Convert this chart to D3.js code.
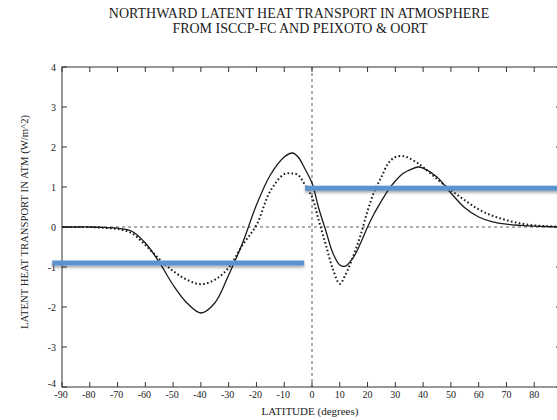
<!DOCTYPE html>
<html>
<head>
<meta charset="utf-8">
<script src="https://cdn.jsdelivr.net/npm/d3@7"></script>
<style>
  body { margin: 0; background: #fff; }
  text { font-family: "Liberation Serif", "Times New Roman", serif; fill: #222; }
</style>
</head>
<body>
<div id="chart"></div>
<script>
// latitude samples (degrees)
var latitudes = [-90,-85,-80,-75,-70,-65,-60,-55,-50,-45,-40,-35,-30,-25,-20,-15,-10,-7,-5,-2.5,
                 0,2.5,5,7.5,10,12,15,17.5,20,22.5,25,27.5,30,33,35,38,40,45,50,55,60,65,70,75,80,85,90];

// ISCCP-FC (solid)
var isccpValues = [0,0,0,-0.01,-0.03,-0.1,-0.4,-0.88,-1.45,-1.9,-2.15,-1.9,-1.2,-0.4,0.55,1.3,1.75,1.85,1.75,1.45,
                   1.1,0.45,-0.1,-0.65,-0.95,-0.98,-0.75,-0.4,0.0,0.35,0.65,0.93,1.15,1.35,1.42,1.5,1.47,1.25,0.85,0.48,0.25,0.13,0.07,0.04,0.02,0.01,0];

// Peixoto & Oort (dotted)
var peixotoValues = [0,0,0,-0.02,-0.05,-0.15,-0.45,-0.8,-1.1,-1.32,-1.43,-1.32,-1.02,-0.45,0.05,0.9,1.32,1.34,1.3,1.05,
                     0.75,0.15,-0.45,-1.05,-1.42,-1.2,-0.7,-0.2,0.4,0.9,1.25,1.6,1.75,1.77,1.72,1.6,1.5,1.2,0.92,0.67,0.44,0.28,0.17,0.09,0.04,0.02,0];

// hemispheric means (blue bars)
var hemiMeans = [
    {from: -93.5, to: -2.8, value: -0.9},
    {from: -2.5, to: 92, value: 0.97}
];

var xTicks = [-90,-80,-70,-60,-50,-40,-30,-20,-10,0,10,20,30,40,50,60,70,80];
var yTicks = [-4,-3,-2,-1,0,1,2,3,4];

var W = 557, H = 420;
var plotL = 62, plotR = 562, plotT = 67, plotB = 387;

var svg = d3.select("#chart").append("svg")
    .attr("width", W)
    .attr("height", H);

var defs = svg.append("defs");
var filt = defs.append("filter").attr("id", "shadow")
    .attr("x", "-5%").attr("y", "-100%").attr("width", "110%").attr("height", "400%");
filt.append("feDropShadow")
    .attr("dx", 0).attr("dy", 2).attr("stdDeviation", 1.5)
    .attr("flood-color", "#000").attr("flood-opacity", 0.35);

var x = d3.scaleLinear().domain([-90, 90]).range([plotL, plotR]);
var y = d3.scaleLinear().domain([-4, 4]).range([plotB, plotT]);

// title
svg.append("text")
    .attr("x", 299).attr("y", 18)
    .attr("text-anchor", "middle")
    .style("font-size", "14px")
    .text("NORTHWARD LATENT HEAT TRANSPORT IN ATMOSPHERE");
svg.append("text")
    .attr("x", 300).attr("y", 33)
    .attr("text-anchor", "middle")
    .style("font-size", "14px")
    .text("FROM ISCCP-FC AND PEIXOTO & OORT");

// frame
svg.append("rect")
    .attr("x", plotL).attr("y", plotT)
    .attr("width", plotR - plotL).attr("height", plotB - plotT)
    .attr("fill", "none")
    .attr("stroke", "#333")
    .attr("stroke-width", 1);

// x ticks (top and bottom, inward)
xTicks.forEach(function(t) {
    svg.append("line")
        .attr("x1", x(t)).attr("x2", x(t))
        .attr("y1", plotB).attr("y2", plotB - 5)
        .attr("stroke", "#333");
    svg.append("line")
        .attr("x1", x(t)).attr("x2", x(t))
        .attr("y1", plotT).attr("y2", plotT + 5)
        .attr("stroke", "#333");
    svg.append("text")
        .attr("x", x(t) + (t < 0 ? -1 : 0))
        .attr("y", plotB + 11)
        .attr("text-anchor", "middle")
        .style("font-size", "10px")
        .text(t);
});

// y ticks (left and right, inward)
yTicks.forEach(function(t) {
    svg.append("line")
        .attr("x1", plotL).attr("x2", plotL + 5)
        .attr("y1", y(t)).attr("y2", y(t))
        .attr("stroke", "#333");
    svg.append("line")
        .attr("x1", plotR).attr("x2", plotR - 6)
        .attr("y1", y(t)).attr("y2", y(t))
        .attr("stroke", "#333");
    svg.append("text")
        .attr("x", plotL - 6)
        .attr("y", y(t) + (t == -4 ? 0 : 3.5))
        .attr("text-anchor", "end")
        .style("font-size", "10px")
        .text(t);
});

// zero reference lines
svg.append("line")
    .attr("x1", plotL).attr("x2", plotR)
    .attr("y1", y(0)).attr("y2", y(0))
    .attr("stroke", "#333")
    .attr("stroke-width", 0.8)
    .attr("stroke-dasharray", "3,3");
svg.append("line")
    .attr("x1", x(0)).attr("x2", x(0))
    .attr("y1", plotT).attr("y2", plotB)
    .attr("stroke", "#333")
    .attr("stroke-width", 0.8)
    .attr("stroke-dasharray", "3,3");

var line = d3.line()
    .x(function(d) { return x(d[0]); })
    .y(function(d) { return y(d[1]); })
    .curve(d3.curveCatmullRom.alpha(0.5));

svg.append("path")
    .datum(d3.zip(latitudes, isccpValues))
    .attr("d", line)
    .attr("fill", "none")
    .attr("stroke", "#1a1a1a")
    .attr("stroke-width", 1.3);

svg.append("path")
    .datum(d3.zip(latitudes, peixotoValues))
    .attr("d", line)
    .attr("fill", "none")
    .attr("stroke", "#1a1a1a")
    .attr("stroke-width", 2)
    .attr("stroke-dasharray", "1.6,2.4");

// hemispheric mean bars
svg.selectAll(".hemi")
    .data(hemiMeans)
    .enter().append("rect")
    .attr("class", "hemi")
    .attr("x", function(d) { return x(d.from); })
    .attr("width", function(d) { return x(d.to) - x(d.from); })
    .attr("y", function(d) { return y(d.value) - 2.5; })
    .attr("height", 5)
    .attr("fill", "#5b93cf")
    .attr("filter", "url(#shadow)");

// axis titles
svg.append("text")
    .attr("x", 310).attr("y", 415)
    .attr("text-anchor", "middle")
    .style("font-size", "11px")
    .text("LATITUDE (degrees)");

svg.append("text")
    .attr("transform", "translate(28,222) rotate(-90)")
    .attr("text-anchor", "middle")
    .style("font-size", "10.7px")
    .text("LATENT HEAT TRANSPORT IN ATM (W/m^2)");
</script>
</body>
</html>
